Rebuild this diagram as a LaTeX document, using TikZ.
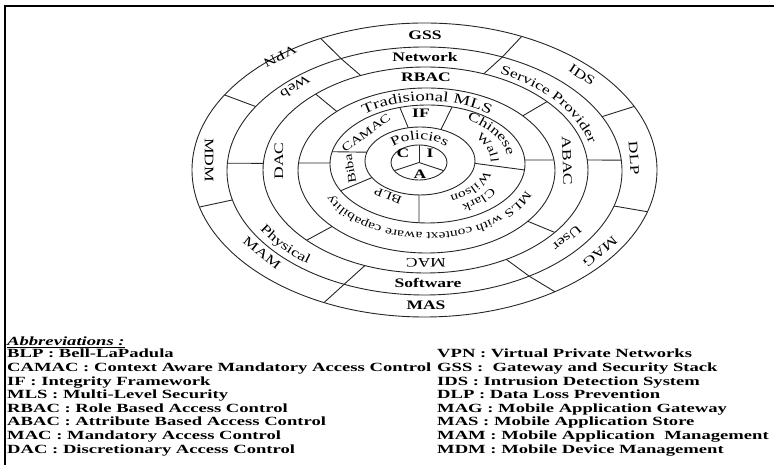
\documentclass[tikz,border=0pt]{standalone}
\usepackage{fontspec}
\setmainfont{Liberation Serif}
\newfontfamily\ringfont{Liberation Serif}[FakeStretch=1.35]
\newfontfamily\legendfont{Liberation Serif}[FakeStretch=1.49]
\usetikzlibrary{calc,decorations.text}
\newcommand\rl{\ringfont\fontsize{13}{15}\selectfont}
\newcommand\rs{\ringfont\fontsize{11.5}{13}\selectfont}
\tikzset{
  ring/.style={line width=0.9pt, draw=black!85},
  sep/.style={line width=0.9pt, draw=black!85},
  lbl/.style={font=\rl, inner sep=0pt},
  slbl/.style={font=\rs, inner sep=0pt},
  blbl/.style={font=\rl\bfseries, inner sep=0pt},
  lg/.style={font=\legendfont\bfseries\fontsize{12.5}{13.6}\selectfont, inner sep=0pt, anchor=base west},
  frame/.style={line width=1.6pt, draw=black},
}
\begin{document}
\begin{tikzpicture}[x=1pt, y=1pt]
\useasboundingbox (0,0) rectangle (774,465);

% frame
\coordinate (fl) at (5,0);
\coordinate (fc) at (5,459);
\coordinate (fr) at (774,459);
\draw[frame] (fl) -- (fc) -- (fr);

% centres of the rings
\coordinate (c7) at (424.5,295);
\coordinate (c6) at (424.5,294);
\coordinate (c5) at (425.5,295);
\coordinate (c4) at (426.5,294.5);
\coordinate (c3) at (427.5,301);
\coordinate (cp) at (420,304);
\coordinate (cc) at (419,302.5);

% rings
\draw[ring] (c7) ellipse [x radius=232.5, y radius=147];
\draw[ring] (c6) ellipse [x radius=197.5, y radius=124];
\draw[ring] (c5) ellipse [x radius=162.5, y radius=103];
\draw[ring] (c4) ellipse [x radius=128.5, y radius=82.5];
\draw[ring] (c3) ellipse [x radius=97.5, y radius=59];
\draw[ring] (cp) ellipse [x radius=55, y radius=34];
\draw[ring] (cc) ellipse [x radius=28, y radius=17.5];

% outer ring separators
\draw[sep] ($(c6)+(115:197.5 and 124)$) -- ($(c7)+(116.5:232.5 and 147)$);
\draw[sep] ($(c6)+(66.8:197.5 and 124)$) -- ($(c7)+(65.3:232.5 and 147)$);
\draw[sep] ($(c6)+(26:197.5 and 124)$) -- ($(c7)+(25.6:232.5 and 147)$);
\draw[sep] ($(c6)+(-16.4:197.5 and 124)$) -- ($(c7)+(-16.5:232.5 and 147)$);
\draw[sep] ($(c6)+(-58:197.5 and 124)$) -- ($(c7)+(-55.9:232.5 and 147)$);
\draw[sep] ($(c6)+(-114:197.5 and 124)$) -- ($(c7)+(-115.6:232.5 and 147)$);
\draw[sep] ($(c6)+(-166.5:197.5 and 124)$) -- ($(c7)+(-165.4:232.5 and 147)$);
\draw[sep] ($(c6)+(148.7:197.5 and 124)$) -- ($(c7)+(149.3:232.5 and 147)$);

% channel ring separators
\draw[sep] ($(c5)+(113.5:162.5 and 103)$) -- ($(c6)+(115:197.5 and 124)$);
\draw[sep] ($(c5)+(69:162.5 and 103)$) -- ($(c6)+(66.8:197.5 and 124)$);
\draw[sep] ($(c5)+(5.6:162.5 and 103)$) -- ($(c6)+(5:197.5 and 124)$);
\draw[sep] ($(c5)+(-60.2:162.5 and 103)$) -- ($(c6)+(-58:197.5 and 124)$);
\draw[sep] ($(c5)+(-111.9:162.5 and 103)$) -- ($(c6)+(-114:197.5 and 124)$);
\draw[sep] ($(c5)+(176.3:162.5 and 103)$) -- ($(c6)+(176.4:197.5 and 124)$);

% access control ring separators
\draw[sep] ($(c4)+(134.3:128.5 and 82.5)$) -- ($(c5)+(132.5:162.5 and 103)$);
\draw[sep] ($(c4)+(41.5:128.5 and 82.5)$) -- ($(c5)+(41.6:162.5 and 103)$);
\draw[sep] ($(c4)+(-38:128.5 and 82.5)$) -- ($(c5)+(-37.3:162.5 and 103)$);
\draw[sep] ($(c4)+(-137.3:128.5 and 82.5)$) -- ($(c5)+(-137:162.5 and 103)$);

% MLS ring separators
\draw[sep] ($(c3)+(3.9:97.5 and 59)$) -- ($(c4)+(7.3:128.5 and 82.5)$);
\draw[sep] ($(c3)+(179:97.5 and 59)$) -- ($(c4)+(174.8:128.5 and 82.5)$);

% model ring separators
\draw[sep] ($(cp)+(102.3:55 and 34)$) -- ($(c3)+(106.5:97.5 and 59)$);
\draw[sep] ($(cp)+(67.6:55 and 34)$) -- ($(c3)+(75.4:97.5 and 59)$);
\draw[sep] ($(cp)+(-4:55 and 34)$) -- ($(c3)+(-5.8:97.5 and 59)$);
\draw[sep] ($(cp)+(-91:55 and 34)$) -- ($(c3)+(-95:97.5 and 59)$);
\draw[sep] ($(cp)+(-150.8:55 and 34)$) -- ($(c3)+(-153:97.5 and 59)$);
\draw[sep] ($(cp)+(165:55 and 34)$) -- ($(c3)+(168:97.5 and 59)$);

% C / I / A core
\draw[sep] (cc) -- ($(cc)+(90:28 and 17.5)$);
\draw[sep] (cc) -- ($(cc)+(-28:28 and 17.5)$);
\draw[sep] (cc) -- ($(cc)+(-152:28 and 17.5)$);

% outer ring labels
\node[blbl] (gss) at (425,430) {GSS};
\node[lbl, rotate=-33] (ids) at (582,390) {IDS};
\node[lbl, rotate=-86] (dlp) at (634,307) {DLP};
\node[lbl, rotate=-139.5] (mag) at (600,213) {MAG};
\node[blbl] (mas) at (426,160) {MAS};
\node[lbl, rotate=-38] (mam) at (262,212) {MAM};
\node[lbl, rotate=-90] (mdm) at (209,305) {MDM};
\node[lbl, rotate=-153.4] (vpn) at (280,409) {VPN};

% channel ring labels
\node[blbl] (net) at (425,408) {Network};
\node[lbl, rotate=-140] (user) at (567,227) {User};
\node[blbl] (soft) at (428,182) {Software};
\node[lbl, rotate=-148] (web) at (295,378) {Web};
\path[decorate, decoration={text along path, text align=center, text={|\rl|Service Provider}}]
  ($(424.5,294.5)+(68:170 and 108.5)$) arc[start angle=68, end angle=8, x radius=170, y radius=108.5];
\path[decorate, decoration={text along path, text align=center, text={|\rl|Physical}}]
  ($(424.5,294.5)+(-160:190 and 118.5)$) arc[start angle=-160, end angle=-120, x radius=190, y radius=118.5];

% access control ring labels
\node[blbl] (rbac) at (426,388) {RBAC};
\node[lbl, rotate=-88] (abac) at (567,304) {ABAC};
\node[lbl, rotate=180] (mac) at (426,202) {MAC};
\node[lbl, rotate=90] (dac) at (279,304) {DAC};

% MLS ring labels
\path[decorate, decoration={text along path, text align=center, text={|\ringfont\fontsize{14}{16}\selectfont|Tradisional MLS}}]
  ($(427,297)+(140:105 and 67)$) arc[start angle=140, end angle=40, x radius=105, y radius=67];
\path[decorate, decoration={text along path, text align=center, text={|\ringfont\fontsize{11.5}{13}\selectfont|MLS with context aware capability}}]
  ($(427,297)+(-4:105 and 65)$) arc[start angle=-4, end angle=-171, x radius=105, y radius=65];

% model ring labels
\node[blbl] (if) at (421,352) {IF};
\node[slbl, rotate=158] (blp) at (388,269) {BLP};
\node[slbl, rotate=100] (biba) at (350,296) {Biba};
\node[slbl, rotate=36] (camac) at (366,332) {CAMAC};
\path[decorate, decoration={text along path, text align=center, text={|\rl|Chinese}}]
  ($(424,302.5)+(60:84 and 50)$) arc[start angle=60, end angle=6, x radius=84, y radius=50];
\path[decorate, decoration={text along path, text align=center, text={|\rs|Wall}}]
  ($(424,302.5)+(38:67 and 39)$) arc[start angle=38, end angle=2, x radius=67, y radius=39];
\path[decorate, decoration={text along path, text align=center, text={|\rs|Clark}}]
  ($(424,302.5)+(-20:79 and 48)$) arc[start angle=-20, end angle=-70, x radius=79, y radius=48];
\path[decorate, decoration={text along path, text align=center, text={|\rs|Wilson}}]
  ($(424,302.5)+(-14:62 and 37)$) arc[start angle=-14, end angle=-64, x radius=62, y radius=37];

% policies ring and core
\path[decorate, decoration={text along path, text align=center, text={|\rl|Policies}}]
  ($(419.5,303)+(170:36 and 22.5)$) arc[start angle=170, end angle=10, x radius=36, y radius=22.5];
\node[blbl] (c) at (403,312) {C};
\node[blbl] (i) at (430,312) {I};
\node[blbl] (a) at (420,291) {A};

% abbreviations
\node[lg, font=\legendfont\bfseries\itshape\fontsize{12.5}{13.6}\selectfont] (abbr) at (7,119) {\underline{Abbreviations :}};
\foreach \txt [count=\i] in {{BLP : Bell-LaPadula},
  {CAMAC : Context Aware Mandatory Access Control},
  {IF : Integrity Framework},
  {MLS : Multi-Level Security},
  {RBAC : Role Based Access Control},
  {ABAC : Attribute Based Access Control},
  {MAC : Mandatory Access Control},
  {DAC : Discretionary Access Control}}
  \node[lg] (left\i) at (7,{107-(\i-1)*13.6}) {\txt};
\foreach \txt [count=\i] in {{VPN : Virtual Private Networks},
  {GSS :\ \ Gateway and Security Stack},
  {IDS : Intrusion Detection System},
  {DLP : Data Loss Prevention},
  {MAG : Mobile Application Gateway},
  {MAS : Mobile Application Store},
  {MAM : Mobile Application\ \ Management},
  {MDM : Mobile Device Management}}
  \node[lg] (right\i) at (437,{107-(\i-1)*13.6}) {\txt};
\end{tikzpicture}
\end{document}
